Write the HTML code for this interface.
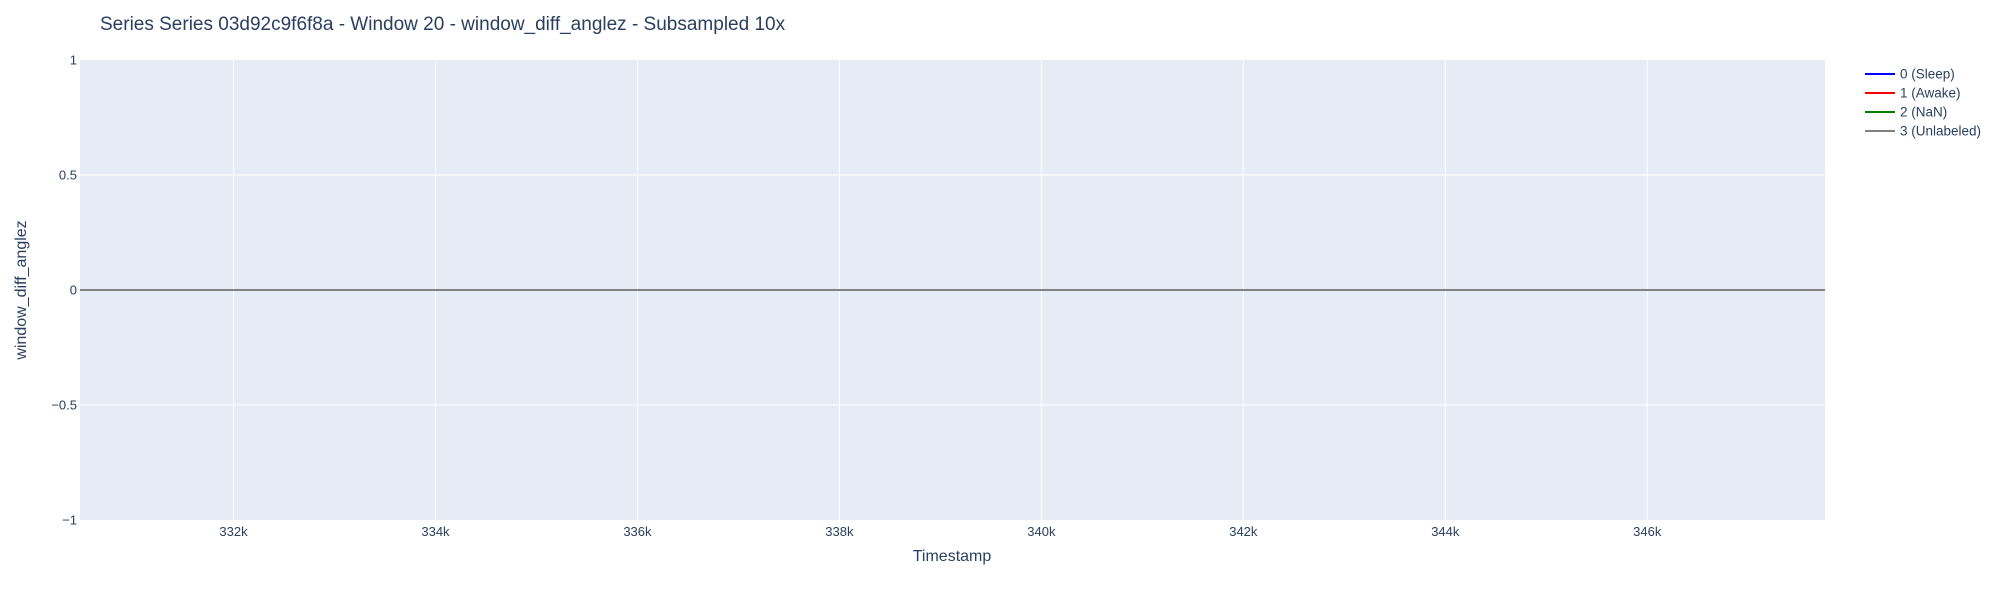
<!DOCTYPE html>
<html><head><meta charset="utf-8"><style>
html,body{margin:0;padding:0;background:#fff;width:2000px;height:600px;overflow:hidden}
svg{display:block;font-family:"Liberation Sans",Arial,sans-serif}
</style></head><body>
<svg id="chart" width="2000" height="600">
<rect width="2000" height="600" fill="#fff"/>
<text x="100" y="30" font-size="19" fill="#2a3f5f">Series Series 03d92c9f6f8a - Window 20 - window_diff_anglez - Subsampled 10x</text>
<rect x="80" y="60" width="1745" height="460" fill="#e5ecf6"/>
<g id="grid"></g>
<g id="series"></g>
<g id="ticks"></g>
<text x="952" y="561" font-size="16" fill="#2a3f5f" text-anchor="middle">Timestamp</text>
<text transform="translate(26,290) rotate(-90)" font-size="16" fill="#2a3f5f" text-anchor="middle">window_diff_anglez</text>
<g>
<g><line x1="1865" x2="1895" y1="74" y2="74" stroke="#0000ff" stroke-width="2"/><text x="1900" y="78.5" font-size="13.5" fill="#2a3f5f">0 (Sleep)</text></g>
<g><line x1="1865" x2="1895" y1="93" y2="93" stroke="#ff0000" stroke-width="2"/><text x="1900" y="97.5" font-size="13.5" fill="#2a3f5f">1 (Awake)</text></g>
<g><line x1="1865" x2="1895" y1="112" y2="112" stroke="#008000" stroke-width="2"/><text x="1900" y="116.5" font-size="13.5" fill="#2a3f5f">2 (NaN)</text></g>
<g><line x1="1865" x2="1895" y1="131" y2="131" stroke="#808080" stroke-width="2"/><text x="1900" y="135.5" font-size="13.5" fill="#2a3f5f">3 (Unlabeled)</text></g>
</g>
</svg>
<script>
const xTicks = [332000, 334000, 336000, 338000, 340000, 342000, 344000, 346000];
const xTickLabels = ["332k","334k","336k","338k","340k","342k","344k","346k"];
const yTicks = [1, 0.5, 0, -0.5, -1];
const yTickLabels = ["1","0.5","0","\u22120.5","\u22121"];
const timestamps = [330480, 347760];
const unlabeledValues = [0, 0];

const X0=80, X1=1825, Y0=60, Y1=520;
const xMin=330480, xMax=347760, yMin=-1, yMax=1;
const sx = v => X0 + (v - xMin) / (xMax - xMin) * (X1 - X0);
const sy = v => Y1 - (v - yMin) / (yMax - yMin) * (Y1 - Y0);
const NS = "http://www.w3.org/2000/svg";
const grid = document.getElementById('grid');
const ticks = document.getElementById('ticks');
const series = document.getElementById('series');

xTicks.forEach((t, i) => {
  const l = document.createElementNS(NS, 'line');
  l.setAttribute('x1', sx(t)); l.setAttribute('x2', sx(t));
  l.setAttribute('y1', Y0); l.setAttribute('y2', Y1);
  l.setAttribute('stroke', '#fff'); l.setAttribute('stroke-width', '1');
  
  
  grid.appendChild(l);
  const tx = document.createElementNS(NS, 'text');
  tx.setAttribute('x', sx(t)); tx.setAttribute('y', 536);
  tx.setAttribute('font-size', '13'); tx.setAttribute('fill', '#2a3f5f');
  tx.setAttribute('text-anchor', 'middle');
  tx.textContent = xTickLabels[i];
  
  
  ticks.appendChild(tx);
});
yTicks.forEach((t, i) => {
  if (t !== 1 && t !== -1) {
    const l = document.createElementNS(NS, 'line');
    l.setAttribute('x1', X0); l.setAttribute('x2', X1);
    l.setAttribute('y1', sy(t)); l.setAttribute('y2', sy(t));
    l.setAttribute('stroke', '#fff'); l.setAttribute('stroke-width', '1');
    
    
    grid.appendChild(l);
  }
  const tx = document.createElementNS(NS, 'text');
  tx.setAttribute('x', 77); tx.setAttribute('y', sy(t) + 4.5);
  tx.setAttribute('font-size', '13'); tx.setAttribute('fill', '#2a3f5f');
  tx.setAttribute('text-anchor', 'end');
  tx.textContent = yTickLabels[i];
  
  
  ticks.appendChild(tx);
});
const pts = timestamps.map((t, i) => sx(t) + ',' + sy(unlabeledValues[i])).join(' ');
const pl = document.createElementNS(NS, 'polyline');
pl.setAttribute('points', pts);
pl.setAttribute('fill', 'none');
pl.setAttribute('stroke', '#808080');
pl.setAttribute('stroke-width', '2');


series.appendChild(pl);
</script>
</body></html>
